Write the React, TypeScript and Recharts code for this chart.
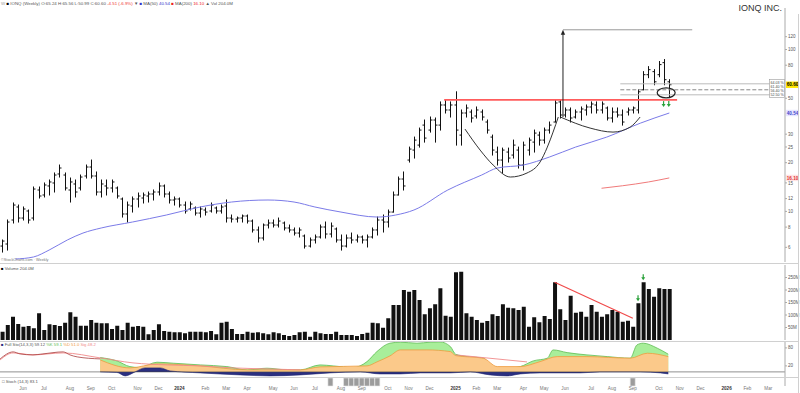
import { ComposedChart, Bar, Line, Area, XAxis, YAxis, ReferenceLine, ReferenceDot } from "recharts"

const FIRST_WEEK = "2023-05-08"
const MONTHS = ["Jan", "Feb", "Mar", "Apr", "May", "Jun", "Jul", "Aug", "Sep", "Oct", "Nov", "Dec"]

// weekly bars: open, high, low, close
const ohlc = [
  [6.11, 6.66, 5.61, 6.56], [6.29, 8.85, 5.77, 8.6], [8.85, 11.27, 8.48, 10.95], [10.65, 10.95, 8.6, 9.1],
  [9.1, 10.65, 8.85, 10.35], [10.06, 10.2, 8.48, 8.85], [9.1, 14.15, 8.85, 13.75], [13.56, 14.15, 12.1, 12.45],
  [12.63, 14.98, 12.28, 14.56], [14.36, 15.63, 12.63, 15.2], [14.98, 17.27, 13.18, 16.78], [17.03, 19.34, 16.31, 18.54],
  [16.78, 17.27, 13.56, 13.95], [13.56, 16.08, 11.43, 15.2], [14.77, 15.63, 12.28, 13.18], [13.95, 16.78, 13.56, 16.31],
  [16.55, 19.34, 16.08, 18.8], [18.8, 20.76, 16.08, 16.55], [16.55, 17.52, 12.63, 13.18], [13.18, 15.63, 12.28, 14.77],
  [14.36, 15.63, 12.63, 13.95], [13.95, 15.63, 13.18, 15.2], [13.95, 14.15, 12.1, 12.45], [11.93, 12.1, 9.23, 9.64],
  [9.64, 11.43, 8.6, 10.95], [10.8, 12.28, 9.91, 11.93], [11.93, 12.99, 10.65, 12.45], [12.1, 12.99, 11.27, 12.63],
  [12.45, 13.18, 11.43, 12.81], [12.81, 13.56, 11.76, 13.18], [13.18, 14.98, 12.63, 14.36], [14.36, 14.56, 12.28, 12.81],
  [12.81, 13.18, 11.27, 11.76], [11.76, 12.28, 10.95, 11.93], [11.93, 12.1, 10.65, 10.95], [10.95, 11.43, 9.77, 10.06],
  [10.35, 11.43, 10.2, 11.11], [10.5, 10.65, 9.5, 9.77], [9.77, 10.65, 9.23, 10.35], [10.2, 10.5, 9.5, 9.91],
  [10.06, 11.27, 9.91, 10.95], [10.5, 10.65, 9.77, 10.06], [10.06, 10.95, 9.77, 10.65], [10.8, 11.76, 8.6, 9.1],
  [9.1, 9.5, 8.6, 8.97], [8.97, 9.23, 8.6, 9.1], [9.1, 9.5, 8.6, 9.37], [9.37, 9.5, 8.48, 8.72],
  [8.72, 8.85, 7.46, 7.68], [7.68, 8.01, 6.47, 6.85], [6.85, 8.36, 6.66, 8.24], [8.24, 8.85, 7.9, 8.48],
  [8.48, 8.85, 8.01, 8.24], [8.24, 9.1, 8.01, 8.72], [8.48, 8.6, 7.68, 7.9], [7.9, 8.24, 7.46, 7.68],
  [7.68, 7.9, 7.15, 7.35], [7.35, 7.9, 6.95, 7.68], [7.05, 7.15, 5.94, 6.11], [6.11, 6.85, 6.03, 6.66],
  [6.66, 7.15, 6.38, 6.95], [6.95, 8.24, 6.85, 8.01], [8.01, 8.6, 6.85, 7.25], [7.25, 8.48, 6.95, 8.12],
  [7.79, 7.9, 6.47, 6.66], [6.66, 7.15, 5.77, 6.11], [6.11, 7.15, 6.03, 6.85], [6.85, 7.35, 6.38, 6.66],
  [6.66, 7.15, 6.47, 6.95], [6.95, 7.05, 6.38, 6.66], [6.66, 7.15, 6.03, 6.95], [6.95, 7.9, 6.85, 7.68],
  [7.68, 9.23, 7.15, 8.85], [8.85, 9.5, 7.46, 8.6], [8.6, 10.2, 8.01, 9.91], [9.91, 13.18, 9.91, 12.63],
  [12.63, 16.31, 12.63, 15.85], [15.85, 17.52, 13.56, 14.36], [20.76, 24.96, 20.18, 24.27], [23.93, 28.78, 21.36, 27.58],
  [25.68, 32.72, 24.96, 31.8], [34.14, 36.69, 26.8, 28.38], [31.8, 38.29, 30.9, 36.69], [36.69, 37.75, 26.8, 34.14],
  [34.14, 47.45, 31.8, 45.43], [45.43, 48.82, 40.54, 42.31], [42.31, 47.45, 38.29, 45.43], [45.43, 54.8, 25.68, 31.8],
  [29.61, 42.31, 25.68, 40.54], [40.54, 45.43, 38.29, 43.53], [41.12, 42.31, 35.66, 37.75], [38.84, 44.16, 37.75, 42.31],
  [41.12, 42.31, 36.69, 38.29], [35.66, 36.69, 30.47, 31.8], [28.78, 29.61, 22.29, 23.93], [23.26, 24.96, 19.34, 20.76],
  [20.76, 24.61, 17.27, 23.93], [23.26, 24.61, 20.18, 21.36], [22.29, 27.58, 21.36, 25.68], [23.93, 24.96, 18.54, 19.34],
  [19.34, 26.8, 18.02, 25.68], [23.93, 28.38, 22.29, 27.58], [26.8, 31.8, 23.26, 30.47], [29.61, 30.9, 25.68, 27.58],
  [27.58, 32.72, 26.42, 31.8], [31.8, 35.66, 30.47, 34.14], [35.66, 48.82, 35.66, 46.74], [47.45, 48.82, 37.75, 39.4],
  [39.4, 43.53, 38.29, 42.31], [42.31, 43.53, 35.66, 37.75], [38.29, 42.31, 37.75, 41.12], [41.12, 44.16, 36.69, 42.92],
  [42.31, 45.43, 39.4, 44.16], [44.16, 47.45, 40.54, 46.08], [45.43, 47.45, 40.54, 42.31], [42.31, 47.45, 40.54, 46.08],
  [43.53, 44.16, 36.69, 37.75], [37.75, 43.53, 35.66, 41.12], [41.12, 43.53, 38.29, 39.4], [39.4, 42.31, 34.14, 35.66],
  [41.12, 43.53, 39.4, 42.31], [42.31, 44.16, 40.54, 43.53], [42.31, 56.38, 40.54, 54.8], [56.38, 73.0, 56.38, 69.9],
  [69.9, 78.4, 67.0, 75.1], [73.0, 75.1, 60.6, 63.18], [69.9, 84.3, 67.9, 80.7], [82.96, 86.7, 60.6, 65.1],
  [63.18, 65.1, 50.99, 60.6],
]

// weekly volume, millions
const volumeM = [
  33, 60, 93, 64, 53, 56, 47, 107, 40, 63, 60, 56, 69, 111, 93, 57, 57, 80, 69, 67, 67, 44, 57, 40, 69, 53, 56, 53, 23, 40,
  63, 36, 33, 31, 31, 27, 33, 33, 33, 31, 36, 23, 69, 73, 44, 24, 24, 33, 29, 31, 27, 23, 31, 27, 20, 16, 20,
  31, 33, 13, 33, 27, 24, 24, 33, 20, 20, 20, 16, 24, 29, 69, 67, 49, 87, 140, 140,
  200, 193, 200, 160, 103, 127, 143, 207, 97, 93,
  271, 273, 107, 93, 80, 69, 76, 103, 96, 143, 129, 127, 120, 133, 53, 91, 71, 96, 84, 231, 123, 80, 177, 109, 113, 93,
  140, 113, 93, 103, 120, 113, 73, 77, 53, 147, 231, 204, 173, 207, 204, 204,
]

// moving averages [week, value]
const ma50 = [
  [2.5, 5.08], [6, 5.23], [9, 5.77], [12.5, 6.66], [15.5, 7.35], [19, 7.9], [25, 8.6], [31.5, 9.5], [38, 10.65],
  [44, 11.43], [51, 11.76], [56, 11.43], [60, 10.65], [65, 9.91], [72, 9.23], [75.5, 9.5], [79, 10.2], [85.5, 13.56],
  [92, 16.78], [95, 18.54], [100, 19.34], [105, 21.67], [110, 24.96], [116, 28.78], [122.5, 35.14], [128, 40.54],
]
const ma200 = [[115, 13.9], [119, 14.4], [124, 15.2], [128, 16.1]]

// drawn pattern
const cupLine = [[88.8, 32.26], [91.7, 23.93], [94.2, 19.34], [97.5, 16.31], [100.7, 17.27], [103.2, 20.18], [104.6, 24.96], [105.7, 30.9], [106.7, 38.29]]
const handleLine = [[107.1, 38.29], [112.8, 32.72], [117.2, 30.9], [120.5, 33.19], [122.4, 38.29]]

// lower indicator
const indGreen = [
  [18.8, 47.7], [22, 36.7], [24.5, 17.7], [26.4, 14.3], [29.7, 32.3], [32.8, 29], [38, 23.3], [43.1, 17.7], [47, 6.7],
  [50.8, 12.3], [54.7, 6.7], [57.2, 6.7], [61, 23.3], [63.5, 20], [67.3, 14.3], [70, 34.3], [71.9, 67.7], [74.4, 95.7],
  [76.4, 99], [79.6, 95.7], [82.1, 99], [84, 100], [86, 84.3], [87, 59], [89.2, 51], [92.3, 45.7], [94.2, 17.7],
  [96.9, 12.3], [99.4, 17.7], [101.9, 36.7], [104.6, 45.7], [105.7, 73.3], [108.4, 64.3], [112.2, 56.7], [116.1, 51],
  [120.5, 45.7], [121.8, 90], [123, 95.7], [125.7, 79], [127.8, 59],
]
const indOrange = [
  [18.8, 40], [24.5, 13.3], [29.7, 26.7], [38, 20], [47, 6.7], [57.2, 6.7], [61, 16.7], [70, 20], [71.9, 33.3],
  [74.4, 53.3], [76.4, 73.3], [81.5, 73.3], [86, 67.7], [87, 54.3], [92.3, 45.7], [95, 17.7], [99.4, 17.7],
  [103.2, 34.3], [106.5, 51], [112.2, 51], [120.5, 45.7], [123.8, 62.3], [127.8, 51],
]
const indNavy = [
  [18.8, 0], [22, -1.7], [23.6, -13.3], [25.5, 0], [27.4, 13.3], [30.3, 13.3], [32.2, 3.3], [38, -3.3], [45.6, -10],
  [51.4, -13.3], [57.2, -10], [62.9, -3.3], [68.7, 0], [72.5, -6.7], [76.4, -6.7], [80.2, -3.3], [86, -3.3], [89.8, 0],
  [93.6, -10], [96.9, -13.3], [99.4, -6.7], [103.2, -3.3], [110.9, -3.3], [114.7, 0], [122.4, 0], [126.3, -3.3], [127.8, -6.7],
]
const indSignal = [
  [-0.4, 40], [2.1, 63.3], [5.9, 56.7], [11.7, 63.3], [18.8, 46.7], [25.1, 30], [31.6, 23.3], [38, 20], [44.3, 13.3],
  [50.8, 10], [57.2, 6.7],
]
const indSignal2 = [[87, 56.7], [100.7, 33.3]]
const indFast = [[-0.4, 43.3], [2.1, 66.7], [3.4, 60], [5.9, 56.7], [7.8, 60], [11.7, 66.7], [13, 56.7], [14.4, 50], [18.8, 43.3]]

const stripWeeks = [63, 66, 67, 68, 69, 70, 71, 72, 121]

const priceTicks = [6, 7, 8, 10, 12, 15, 20, 25, 30, 50, 80, 100, 120]
const X_DOMAIN: [number, number] = [-0.42, 150.2]

const bars = ohlc.map((r, i) => ({ i, o: r[0], h: r[1], l: r[2], c: r[3] }))
const volData = volumeM.map((v, i) => ({ i, v }))
const pts = (arr: number[][]) => arr.map(([i, v]) => ({ i, v }))

const monthTicks: { i: number; label: string; year: boolean }[] = []
{
  const start = new Date(FIRST_WEEK + "T00:00:00Z").getTime()
  for (let i = 1; i <= 150; i++) {
    const d = new Date(start + i * 7 * 864e5)
    const p = new Date(start + (i - 1) * 7 * 864e5)
    if (d.getUTCMonth() !== p.getUTCMonth()) {
      const m = d.getUTCMonth()
      monthTicks.push({ i, label: m === 0 ? String(d.getUTCFullYear()) : MONTHS[m], year: m === 0 })
    }
  }
}

function OhlcBar(props: any) {
  const { x, y, width, height, payload } = props
  if (x == null || y == null || !payload) return null
  const cx = Math.round(x + width / 2) + 0.5
  const top = Math.min(y, y + height)
  const bottom = Math.max(y, y + height)
  const span = Math.log(payload.h) - Math.log(payload.l) || 1
  const at = (v: number) => top + ((Math.log(payload.h) - Math.log(v)) / span) * (bottom - top)
  const yo = at(payload.o)
  const yc = at(payload.c)
  return (
    <g stroke="#111" strokeWidth={1}>
      <line x1={cx} y1={top - 0.5} x2={cx} y2={bottom + 0.5} />
      <line x1={cx - 2} y1={yo} x2={cx} y2={yo} />
      <line x1={cx} y1={yc} x2={cx + 2} y2={yc} />
    </g>
  )
}

const axisTick = { fontSize: 4.5, fill: "#555" }

function ValueTag({ cx, cy, bg, fg, text }: any) {
  if (cx == null) return null
  return (
    <g>
      <rect x={cx + 1} y={cy - 3.2} width={13} height={6.4} fill={bg} />
      <text x={cx + 7.5} y={cy + 1.7} fontSize={4.6} fill={fg} textAnchor="middle" fontWeight="bold">{text}</text>
    </g>
  )
}

function DownArrow({ cx, cy, lift = 0 }: any) {
  if (cx == null) return null
  const b = cy - lift
  return (
    <g fill="#2aa13a" stroke="#2aa13a">
      <line x1={cx} y1={b - 6} x2={cx} y2={b - 2} strokeWidth={1.2} />
      <path d={`M${cx - 2},${b - 3} L${cx + 2},${b - 3} L${cx},${b} Z`} stroke="none" />
    </g>
  )
}

function MonthTick({ x, y, payload }: any) {
  const t = monthTicks.find((m) => m.i === payload.value)
  if (!t) return null
  return (
    <text x={x} y={y + 3.8} fontSize={4.6} textAnchor="middle" fill={t.year ? "#333" : "#777"} fontWeight={t.year ? "bold" : "normal"}>
      {t.label}
    </text>
  )
}

function PriceChart() {
  return (
    <ComposedChart width={800} height={262} data={bars} margin={{ top: 8, right: 0, bottom: 0, left: 0 }}>
      <XAxis dataKey="i" type="number" domain={X_DOMAIN} hide allowDataOverflow />
      <YAxis
        orientation="right"
        scale="log"
        domain={[4.87, 180.5]}
        ticks={priceTicks}
        allowDataOverflow
        width={15}
        tick={axisTick}
        tickSize={2}
        tickMargin={1}
        axisLine={{ stroke: "#aaa" }}
        tickLine={{ stroke: "#aaa" }}
      />
      <ReferenceLine segment={[{ x: 84.8, y: 48.8 }, { x: 129.5, y: 48.8 }]} stroke="#ff5c5c" strokeWidth={1.8} />
      <ReferenceLine segment={[{ x: 107.6, y: 132.4 }, { x: 132.4, y: 132.4 }]} stroke="#999" strokeWidth={1} />
      <ReferenceLine segment={[{ x: 118.6, y: 61.4 }, { x: 147.4, y: 61.4 }]} stroke="#bbb" strokeWidth={1} />
      <ReferenceLine segment={[{ x: 118.6, y: 56.4 }, { x: 147.4, y: 56.4 }]} stroke="#888" strokeWidth={1} strokeDasharray="4 2" />
      <ReferenceLine segment={[{ x: 118.6, y: 52.5 }, { x: 147.4, y: 52.5 }]} stroke="#bbb" strokeWidth={1} />
      <ReferenceLine segment={[{ x: 107.6, y: 38.3 }, { x: 107.6, y: 128 }]} stroke="#222" strokeWidth={1} />
      <Line data={pts(ma50)} dataKey="v" type="monotone" stroke="#7b7be8" strokeWidth={1} dot={false} activeDot={false} isAnimationActive={false} />
      <Line data={pts(ma200)} dataKey="v" type="monotone" stroke="#f07a7a" strokeWidth={1} dot={false} activeDot={false} isAnimationActive={false} />
      <Line data={pts(cupLine)} dataKey="v" type="monotone" stroke="#333" strokeWidth={1} dot={false} activeDot={false} isAnimationActive={false} />
      <Line data={pts(handleLine)} dataKey="v" type="monotone" stroke="#333" strokeWidth={1} dot={false} activeDot={false} isAnimationActive={false} />
      <Bar dataKey={(d: any) => [d.l, d.h]} shape={(p: any) => <OhlcBar {...p} />} barSize={5} isAnimationActive={false} />
      <ReferenceDot
        x={107.6}
        y={132.4}
        ifOverflow="visible"
        shape={(p: any) => <path d={`M${p.cx - 2.2},${p.cy + 5} L${p.cx + 2.2},${p.cy + 5} L${p.cx},${p.cy} Z`} fill="#222" />}
      />
      <ReferenceDot
        x={127.4}
        y={54}
        ifOverflow="visible"
        shape={(p: any) => <ellipse cx={p.cx} cy={p.cy} rx={9} ry={5} fill="none" stroke="#222" strokeWidth={1.2} />}
      />
      <ReferenceDot x={126.9} y={46} ifOverflow="visible" shape={(p: any) => <DownArrow {...p} lift={-3} />} />
      <ReferenceDot x={127.9} y={46} ifOverflow="visible" shape={(p: any) => <DownArrow {...p} lift={-3} />} />
      <ReferenceDot x={X_DOMAIN[1]} y={60.6} ifOverflow="visible" shape={(p: any) => <ValueTag {...p} bg="#ffe600" fg="#000" text="60.60" />} />
      <ReferenceDot x={X_DOMAIN[1]} y={40.54} ifOverflow="visible" shape={(p: any) => <ValueTag {...p} bg="#e6e6ff" fg="#4444cc" text="40.54" />} />
      <ReferenceDot x={X_DOMAIN[1]} y={16.1} ifOverflow="visible" shape={(p: any) => <ValueTag {...p} bg="#ffe3e3" fg="#e03030" text="16.10" />} />
    </ComposedChart>
  )
}

function VolumeChart() {
  return (
    <ComposedChart width={800} height={79} data={volData} margin={{ top: 2, right: 0, bottom: 2, left: 0 }}>
      <XAxis dataKey="i" type="number" domain={X_DOMAIN} hide allowDataOverflow />
      <YAxis
        orientation="right"
        domain={[0, 300]}
        ticks={[50, 100, 150, 200, 250]}
        tickFormatter={(v: number) => `${v}M`}
        width={15}
        tick={axisTick}
        tickSize={2}
        tickMargin={1}
        axisLine={{ stroke: "#aaa" }}
        tickLine={{ stroke: "#aaa" }}
      />
      <Bar dataKey="v" fill="#111" barSize={4} isAnimationActive={false} />
      <ReferenceLine segment={[{ x: 106, y: 231 }, { x: 121, y: 87 }]} stroke="#f04a4a" strokeWidth={1.2} />
      <ReferenceDot x={122} y={147} ifOverflow="visible" shape={(p: any) => <DownArrow {...p} lift={2} />} />
      <ReferenceDot x={123} y={231} ifOverflow="visible" shape={(p: any) => <DownArrow {...p} lift={2} />} />
    </ComposedChart>
  )
}

function IndicatorChart() {
  return (
    <ComposedChart width={800} height={36} margin={{ top: 0, right: 0, bottom: 0, left: 0 }}>
      <XAxis dataKey="i" type="number" domain={X_DOMAIN} hide allowDataOverflow />
      <YAxis
        orientation="right"
        domain={[-17, 103]}
        ticks={[20, 50, 80]}
        allowDataOverflow
        width={15}
        tick={axisTick}
        tickSize={2}
        tickMargin={1}
        axisLine={{ stroke: "#aaa" }}
        tickLine={{ stroke: "#aaa" }}
      />
      <Area data={pts(indGreen)} dataKey="v" type="monotone" fill="#a8ee9a" fillOpacity={1} stroke="#5dbb52" strokeWidth={0.8} dot={false} activeDot={false} isAnimationActive={false} />
      <Area data={pts(indOrange)} dataKey="v" type="monotone" fill="#fbc98a" fillOpacity={1} stroke="#ef9a3e" strokeWidth={0.8} dot={false} activeDot={false} isAnimationActive={false} />
      <Area data={pts(indNavy)} dataKey="v" type="monotone" fill="#2b2f80" fillOpacity={1} stroke="#1f2370" strokeWidth={0.6} dot={false} activeDot={false} isAnimationActive={false} />
      <ReferenceLine y={0} stroke="#444" strokeWidth={0.6} />
      <Line data={pts(indSignal)} dataKey="v" type="monotone" stroke="#f08a8a" strokeWidth={0.9} dot={false} activeDot={false} isAnimationActive={false} />
      <Line data={pts(indSignal2)} dataKey="v" type="linear" stroke="#f08a8a" strokeWidth={0.9} dot={false} activeDot={false} isAnimationActive={false} />
      <Line data={pts(indFast)} dataKey="v" type="monotone" stroke="#a83c3c" strokeWidth={0.8} dot={false} activeDot={false} isAnimationActive={false} />
    </ComposedChart>
  )
}

function StripChart() {
  return (
    <ComposedChart width={800} height={15} data={stripWeeks.map((i) => ({ i, v: 1 }))} margin={{ top: 1, right: 0, bottom: 0, left: 0 }}>
      <XAxis
        dataKey="i"
        type="number"
        domain={X_DOMAIN}
        allowDataOverflow
        ticks={monthTicks.map((m) => m.i)}
        interval={0}
        tick={(p: any) => <MonthTick {...p} />}
        axisLine={false}
        tickLine={false}
        tickSize={0}
        tickMargin={0}
        height={6}
      />
      <YAxis orientation="right" domain={[0, 1]} width={15} tick={false} tickLine={false} axisLine={{ stroke: "#aaa" }} />
      <Bar dataKey="v" fill="#9c9c9c" stroke="#e8e8e8" strokeWidth={0.6} barSize={5} isAnimationActive={false} />
    </ComposedChart>
  )
}

export default function App() {
  return (
    <div
      style={{
        position: "absolute",
        left: 0,
        top: 0,
        width: 800,
        height: 393,
        background: "#fff",
        overflow: "hidden",
        fontFamily: "'Liberation Sans', Arial, sans-serif",
      }}
    >
      <div style={{ position: "absolute", left: 0, top: 0 }}>
        <PriceChart />
      </div>
      <div style={{ position: "absolute", left: 0, top: 263 }}>
        <VolumeChart />
      </div>
      <div style={{ position: "absolute", left: 0, top: 341 }}>
        <IndicatorChart />
      </div>
      <div style={{ position: "absolute", left: 0, top: 377 }}>
        <StripChart />
      </div>

      {/* labels and panel frames */}
      <svg width={800} height={393} style={{ position: "absolute", left: 0, top: 0, pointerEvents: "none" }}>
        <g stroke="#d0d0d0" strokeWidth={1}>
          <line x1={0} y1={263.5} x2={798} y2={263.5} />
          <line x1={0} y1={341.5} x2={798} y2={341.5} />
          <line x1={0} y1={377.5} x2={798} y2={377.5} />
          <line x1={798.5} y1={14} x2={798.5} y2={393} />
        </g>
        <text x={1} y={5} fontSize={4.4} fill="#555">
          <tspan fill="#999">W </tspan>
          <tspan fill="#000">■</tspan>
          <tspan> IONQ (Weekly) O:65.24 H:65.56 L:50.99 C:60.60 </tspan>
          <tspan fill="#e33">-4.51 (-6.9%)</tspan>
          <tspan> ▼ </tspan>
          <tspan fill="#3333cc">■</tspan>
          <tspan> MA(50) </tspan>
          <tspan fill="#3333cc">40.54</tspan>
          <tspan> </tspan>
          <tspan fill="#e22">■</tspan>
          <tspan> MA(200) </tspan>
          <tspan fill="#e22">16.10</tspan>
          <tspan> ▲ Vol 204.0M</tspan>
        </text>
        <text x={782} y={11} fontSize={9} fill="#333" textAnchor="end">IONQ INC.</text>
        <text x={1} y={260.5} fontSize={3.8} fill="#777">©StockCharts.com · Weekly</text>
        <text x={1} y={270} fontSize={4.2} fill="#555">
          <tspan fill="#000">■</tspan>
          <tspan> Volume 204.0M</tspan>
        </text>
        <text x={1} y={346} fontSize={4.2} fill="#555">
          <tspan fill="#2b2f80">■</tspan>
          <tspan> Full Sto(14,3,3) 59.12 </tspan>
          <tspan fill="#5dbb52">%K 59.1</tspan>
          <tspan> </tspan>
          <tspan fill="#ef9a3e">%D 51.0</tspan>
          <tspan> </tspan>
          <tspan fill="#f08a8a">Sig 48.2</tspan>
        </text>
        <text x={2} y={383} fontSize={4.2} fill="#555">□ Stoch (14,3) 83.1</text>
        <g fontSize={3.6} fill="#444">
          <rect x={769.5} y={79.5} width={15} height={18} fill="#fff" stroke="#999" strokeWidth={0.6} />
          <text x={770.5} y={83.5}>64.03 %</text>
          <text x={770.5} y={87.7}>61.40 %</text>
          <text x={770.5} y={91.9}>56.40 %</text>
          <text x={770.5} y={96.1}>52.50 %</text>
        </g>
      </svg>
    </div>
  )
}
